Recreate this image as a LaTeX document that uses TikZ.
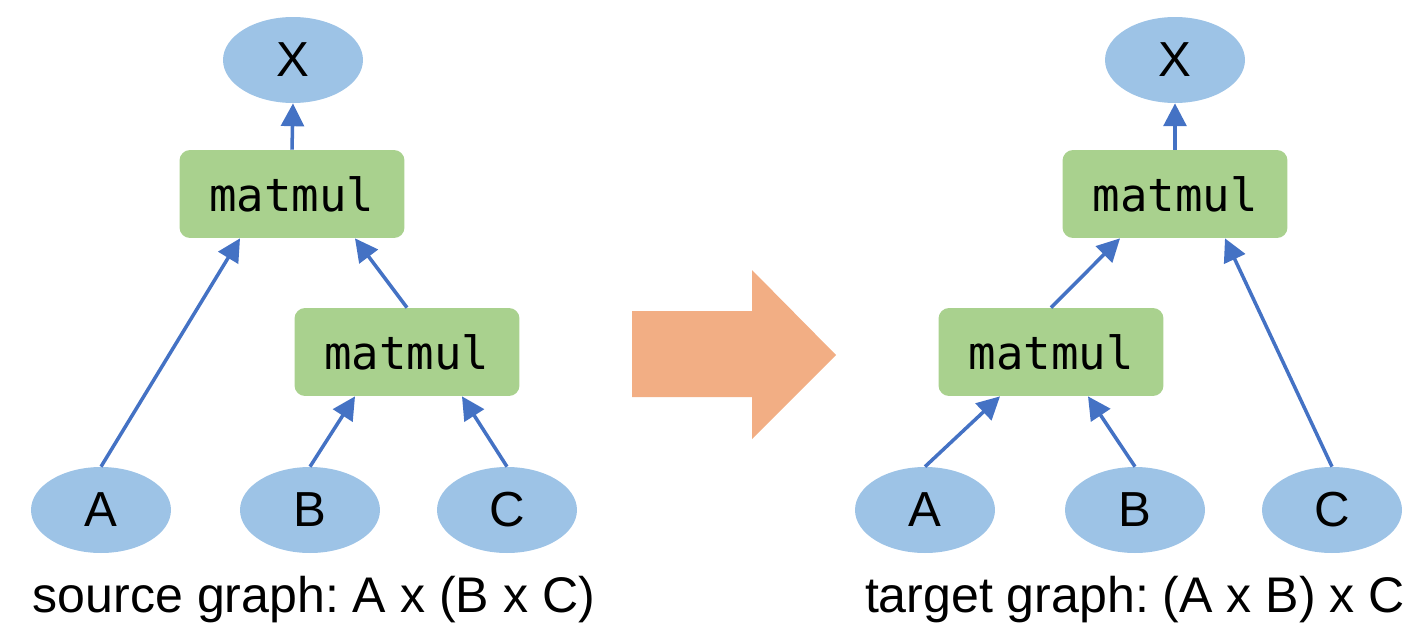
\documentclass[tikz,border=0pt]{standalone}
\usepackage{fontspec}
\setmainfont{Liberation Sans}
\setmonofont{DejaVu Sans Mono}
\usepackage{tikz}
\usepackage{xcolor}
\usetikzlibrary{arrows.meta,shapes.geometric}

\definecolor{tensorblue}{HTML}{9DC3E6}
\definecolor{opgreen}{HTML}{A9D18E}
\definecolor{edgeblue}{HTML}{4472C4}
\definecolor{bigorange}{HTML}{F2AE84}
\frenchspacing

\begin{document}
\begin{tikzpicture}[x=0.02cm, y=-0.02cm, >={Triangle[length=13pt,width=13pt]},
  tensor/.style={ellipse, fill=tensorblue, minimum width=2.8cm, minimum height=1.72cm,
    inner sep=0pt, font=\fontsize{28}{34}\selectfont},
  op/.style={rounded corners=6pt, fill=opgreen, minimum width=4.5cm, minimum height=1.76cm,
    inner sep=0pt, font=\fontsize{26}{30}\selectfont\ttfamily},
  flow/.style={->, draw=edgeblue, line width=2pt},
  caption/.style={anchor=base, font=\fontsize{28.5}{34}\selectfont}]
\useasboundingbox (0,0) rectangle (1413,626);

% source graph
\node[tensor] (X1) at (293,60) {X};
\node[op] (mmA) at (292,194) {matmul};
\node[op] (mmB) at (407,352) {matmul};
\node[tensor] (A1) at (101,510) {A};
\node[tensor] (B1) at (310,510) {B};
\node[tensor] (C1) at (507,510) {C};
\draw[flow] (mmA.north) -- (X1.south);
\draw[flow] (A1.north) -- ([xshift=-1.04cm]mmA.south);
\draw[flow] (mmB.north) -- ([xshift=1.26cm]mmA.south);
\draw[flow] (B1.north) -- ([xshift=-1.04cm]mmB.south);
\draw[flow] (C1.north) -- ([xshift=1.1cm]mmB.south);
\node[caption] (srclabel) at (314,612) {source graph: A x (B x C)};

% big arrow
\fill[bigorange] (632,311) -- (752,311) -- (752,270) -- (836,355) -- (752,439)
  -- (752,397) -- (632,397) -- cycle;

% target graph
\node[tensor] (X2) at (1175,60) {X};
\node[op] (mmC) at (1175,194) {matmul};
\node[op] (mmD) at (1051,352) {matmul};
\node[tensor] (A2) at (925,510) {A};
\node[tensor] (B2) at (1135,510) {B};
\node[tensor] (C2) at (1332,510) {C};
\draw[flow] (mmC.north) -- (X2.south);
\draw[flow] (A2.north) -- ([xshift=-1.02cm]mmD.south);
\draw[flow] (B2.north) -- ([xshift=0.74cm]mmD.south);
\draw[flow] (mmD.north) -- ([xshift=-1.1cm]mmC.south);
\draw[flow] (C2.north) -- ([xshift=1.0cm]mmC.south);
\node[caption] (tgtlabel) at (1135,612) {target graph: (A x B) x C};
\end{tikzpicture}
\end{document}
